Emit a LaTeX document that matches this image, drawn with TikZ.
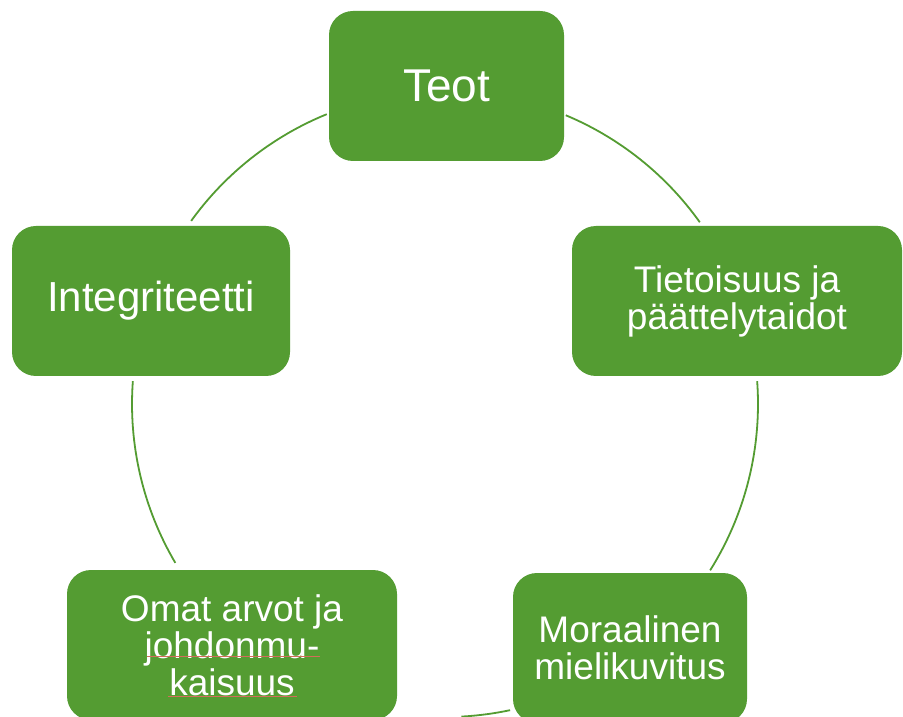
\documentclass[tikz,border=0pt]{standalone}
\usepackage{fontspec}
\setmainfont{Liberation Sans}
\definecolor{boxgreen}{RGB}{84,156,50}
\definecolor{spellred}{RGB}{210,110,90}
\begin{document}
\begin{tikzpicture}[x=1pt,y=1pt,
  cbox/.style={draw=none, fill=boxgreen, rounded corners=24pt, text=white,
    align=center, inner sep=0pt, minimum height=150pt},
  ring/.style={draw=boxgreen, line width=1.8pt},
  fsmall/.style={font=\fontsize{37}{37}\selectfont},
  spell/.style={draw=spellred, line width=0.7pt}]
\useasboundingbox (0,0) rectangle (903,716);
\clip (0,0) rectangle (903,716);
\fill[white] (0,0) rectangle (903,716);
\coordinate (c) at (445,312);
% ring arcs
\draw[ring] (c) ++(112.2:313pt) arc (112.2:144.2:313pt);
\draw[ring] (c) ++(67.3:313pt) arc (67.3:35.5:313pt);
\draw[ring] (c) ++(4.2:313pt) arc (4.2:-32.1:313pt);
\draw[ring] (c) ++(175.8:313pt) arc (175.8:210.5:313pt);
\draw[ring] (c) ++(-78:313pt) arc (-78:-87:313pt);
% boxes
\node[cbox, minimum width=235pt, font=\fontsize{46}{46}\selectfont] (teot) at (446.5,630) {Teot};
\node[cbox, minimum width=330pt, fsmall] (tiet) at (737,415) {Tietoisuus ja\\päättelytaidot};
\node[cbox, minimum width=278pt, font=\fontsize{42}{42}\selectfont] (integ) at (151,415) {Integriteetti};
\node[cbox, minimum width=330pt, fsmall] (omat) at (232,71) {Omat arvot ja\\johdonmu-\\kaisuus};
\node[cbox, minimum width=234pt, fsmall] (mora) at (630,68) {Moraalinen\\mielikuvitus};
% spell-check underlines
\draw[spell] (147,59.5) -- (320,59.5);
\draw[spell] (168,20) -- (297,20);
\end{tikzpicture}
\end{document}
